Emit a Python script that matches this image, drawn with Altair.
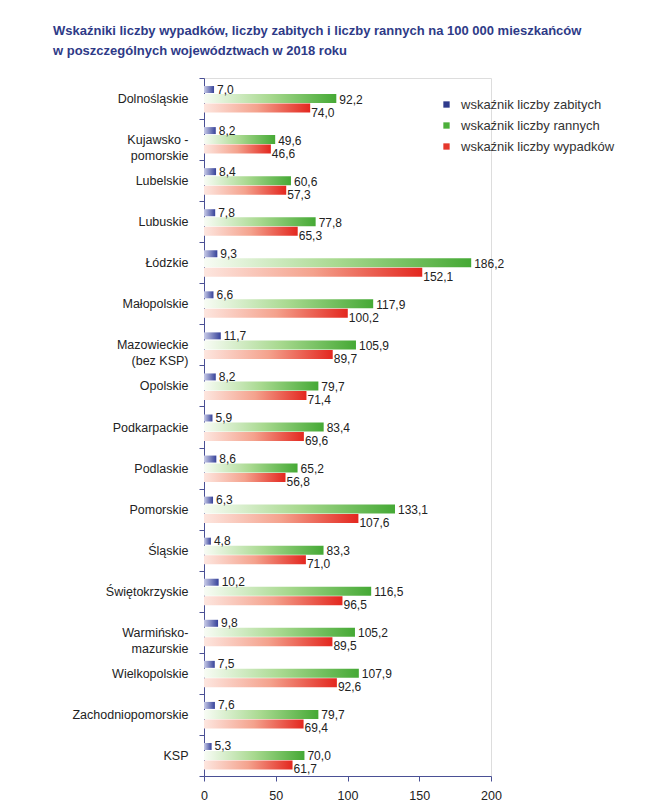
import altair as alt
import pandas as pd

categories = ["Dolnośląskie", "Kujawsko -|pomorskie", "Lubelskie", "Lubuskie", "Łódzkie",
              "Małopolskie", "Mazowieckie|(bez KSP)", "Opolskie", "Podkarpackie", "Podlaskie",
              "Pomorskie", "Śląskie", "Świętokrzyskie", "Warmińsko-|mazurskie", "Wielkopolskie",
              "Zachodniopomorskie", "KSP"]
zabici = [7.0, 8.2, 8.4, 7.8, 9.3, 6.6, 11.7, 8.2, 5.9, 8.6, 6.3, 4.8, 10.2, 9.8, 7.5, 7.6, 5.3]
ranni = [92.2, 49.6, 60.6, 77.8, 186.2, 117.9, 105.9, 79.7, 83.4, 65.2, 133.1, 83.3, 116.5, 105.2, 107.9, 79.7, 70.0]
wypadki = [74.0, 46.6, 57.3, 65.3, 152.1, 100.2, 89.7, 71.4, 69.6, 56.8, 107.6, 71.0, 96.5, 89.5, 92.6, 69.4, 61.7]
series = ["wskaźnik liczby zabitych", "wskaźnik liczby rannych", "wskaźnik liczby wypadków"]
x_ticks = [0, 50, 100, 150, 200]


def fmt(v):
    return f"{v:.1f}".replace(".", ",")


df = pd.DataFrame({
    "woj": categories,
    "zab": zabici,
    "ran": ranni,
    "wyp": wypadki,
    "zab_l": [fmt(v) for v in zabici],
    "ran_l": [fmt(v) for v in ranni],
    "wyp_l": [fmt(v) for v in wypadki],
})
legend_df = pd.DataFrame({"seria": series})

FONT = "Liberation Sans"
AXIS_COLOR = "#4a5095"

x_scale = alt.Scale(domain=[0, 200], nice=False, zero=True)
y_enc = alt.Y("woj:N", sort=categories, title=None,
              scale=alt.Scale(paddingInner=0, paddingOuter=0),
              axis=alt.Axis(labelExpr="split(datum.label, '|')", tickBand="extent",
                            domainColor=AXIS_COLOR, tickColor=AXIS_COLOR, tickSize=5,
                            labelPadding=11, labelFontSize=12.5, labelColor="#222222",
                            labelFont=FONT, labelLineHeight=16, labelAlign="right",
                            labelBaseline="middle", grid=False))
x_axis = alt.Axis(values=x_ticks, domainColor=AXIS_COLOR, tickColor=AXIS_COLOR, tickSize=5,
                  labelPadding=8, labelFontSize=12.5, labelColor="#222222", labelFont=FONT,
                  grid=False, title=None, labelFlush=False)


def grad(c0, c1, mid=None):
    stops = [{"offset": 0, "color": c0}]
    if mid:
        stops.append({"offset": 0.5, "color": mid})
    stops.append({"offset": 1, "color": c1})
    return {"gradient": "linear", "x1": 0, "x2": 1, "y1": 0, "y2": 0, "stops": stops}


base = alt.Chart(df)

blue = base.mark_bar(height=7, yOffset=-9, color=grad("#c9cce8", "#36429a")).encode(
    x=alt.X("zab:Q", scale=x_scale, axis=x_axis), y=y_enc)
green = base.mark_bar(height=9, yOffset=0, color=grad("#f8fcf5", "#45a935", "#a8d98f")).encode(
    x=alt.X("ran:Q", scale=x_scale), y=alt.Y("woj:N", sort=categories))
red = base.mark_bar(height=9, yOffset=9.5, color=grad("#fde6df", "#e3271f", "#f4a28d")).encode(
    x=alt.X("wyp:Q", scale=x_scale), y=alt.Y("woj:N", sort=categories))

txt = dict(font=FONT, fontSize=12, color="#222222", align="left", baseline="middle")
blue_t = base.mark_text(dx=3, dy=-9, **txt).encode(
    x=alt.X("zab:Q", scale=x_scale), y=alt.Y("woj:N", sort=categories), text="zab_l:N")
green_t = base.mark_text(dx=3, dy=1, **txt).encode(
    x=alt.X("ran:Q", scale=x_scale), y=alt.Y("woj:N", sort=categories), text="ran_l:N")
red_t = base.mark_text(dx=1, dy=14, **txt).encode(
    x=alt.X("wyp:Q", scale=x_scale), y=alt.Y("woj:N", sort=categories), text="wyp_l:N")

legend_layer = alt.Chart(legend_df).mark_square(opacity=0, size=0).encode(
    color=alt.Color("seria:N", sort=series,
                    scale=alt.Scale(domain=series, range=["#2e3a8c", "#4caf3a", "#e5372c"]),
                    legend=alt.Legend(title=None, orient="none", legendX=236, legendY=20,
                                      symbolType="square", symbolSize=40, symbolOpacity=1,
                                      symbolStrokeWidth=0, labelFont=FONT, labelFontSize=13,
                                      labelColor="#333333", rowPadding=7, labelOffset=8,
                                      padding=0))
)

chart = alt.layer(blue, green, red, blue_t, green_t, red_t, legend_layer).properties(
    width=287, height=698,
    autosize=alt.AutoSizeParams(type="none"),
    padding={"left": 196, "top": 70, "right": 160, "bottom": 28},
    title=alt.TitleParams(
        text=["Wskaźniki liczby wypadków, liczby zabitych i liczby rannych na 100 000 mieszkańców",
              "w poszczególnych województwach w 2018 roku"],
        anchor="start", frame="group", dx=-151, offset=14, font=FONT,
        fontSize=13, fontWeight="bold", color="#2e3a87", lineHeight=20),
).configure_view(stroke=None).configure(background="white")

chart.save("out.html", embed_options={"renderer": "svg", "actions": False})
